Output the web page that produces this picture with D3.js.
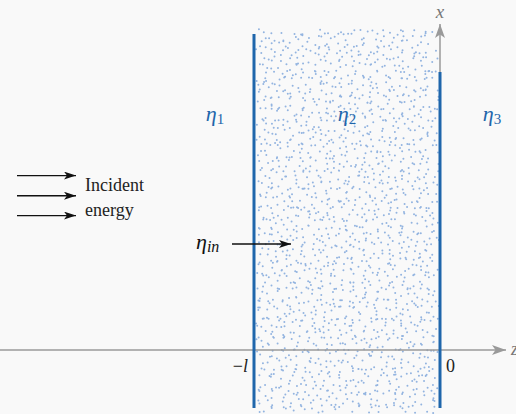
<!DOCTYPE html>
<html><head><meta charset="utf-8">
<script src="https://cdn.jsdelivr.net/npm/d3@7"></script>
</head><body style="margin:0">
<script>
// ---- data ----
const boundaryZ = [-1, 0];              // z positions of slab faces (-l, 0)
const boundaryLabels = ["\u2212l", "0"];
const mediumLabels = ["1", "2", "3"];   // subscripts of η
const mediumZ = [-1.21, -0.5, 0.28];     // z positions for η labels
const incidentArrowsY = [0.545, 0.482, 0.42];  // vertical positions (x-axis units) of incident arrows

const W = 516, H = 414;
const SERIF = "'Liberation Serif'";
const svg = d3.select("body").append("svg").attr("width", W).attr("height", H).style("display", "block");
svg.append("rect").attr("width", W).attr("height", H).attr("fill", "#f9f9f9");

// scales: z horizontal, x vertical
const zS = d3.scaleLinear().domain([-1, 0]).range([254, 440]);
const xS = d3.scaleLinear().domain([0, 1]).range([350, 30]);

const blue = "#1f66ab", gray = "#9a9a9a";
const defs = svg.append("defs");
function marker(id, color, w, h) {
  defs.append("marker").attr("id", id).attr("viewBox", `0 0 ${w} ${h}`)
    .attr("refX", w).attr("refY", h / 2).attr("markerWidth", w).attr("markerHeight", h)
    .attr("markerUnits", "userSpaceOnUse").attr("orient", "auto")
    .append("path").attr("d", `M0,0L${w},${h/2}L0,${h}L${w*0.25},${h/2}Z`).attr("fill", color);
}
marker("ah", "#111", 12, 8);
marker("gh", gray, 14, 10);

// stipple texture (deterministic seeded jitter), drawn as one path
const rng = d3.randomLcg(0.4271);
const stip = d3.path();
const step = 6.2;
for (let y = 31; y < 414; y += step) {
  for (let x = zS(-1) + 2; x < zS(0) - 1; x += step) {
    const px = x + (rng() - 0.5) * step * 1.3, py = y + (rng() - 0.5) * step * 1.3;
    if (px > zS(-1) + 2 && px < zS(0) - 1 && py > 29) {
      stip.moveTo(px + 1, py); stip.arc(px, py, 1.0, 0, 2 * Math.PI);
    }
  }
}
svg.append("path").attr("d", stip.toString()).attr("fill", "#93b4e0");

function txt(sel) { return sel.style("font-family", SERIF); }

// horizontal z axis
svg.append("line").attr("x1", 0).attr("x2", 506).attr("y1", xS(0)).attr("y2", xS(0))
  .attr("stroke", gray).attr("stroke-width", 1.5).attr("marker-end", "url(#gh)");
txt(svg.append("text")).attr("x", 511).attr("y", xS(0) + 5)
  .attr("font-style", "italic").attr("font-size", 18).attr("fill", "#777").text("z");

// vertical x axis (at z=0)
svg.append("line").attr("x1", zS(0)).attr("x2", zS(0)).attr("y1", 80).attr("y2", 24)
  .attr("stroke", gray).attr("stroke-width", 1.5).attr("marker-end", "url(#gh)");
txt(svg.append("text")).attr("x", zS(0)).attr("y", 18).attr("text-anchor", "middle")
  .attr("font-style", "italic").attr("font-size", 19).attr("fill", "#777").text("x");

// boundary lines
svg.append("g").selectAll("line").data(boundaryZ).join("line")
  .attr("x1", d => zS(d)).attr("x2", d => zS(d))
  .attr("y1", (d, i) => i === 0 ? 34 : 72).attr("y2", 408)
  .attr("stroke", blue).attr("stroke-width", 3);

// boundary labels
txt(svg.append("g").selectAll("text").data(boundaryLabels).join("text"))
  .attr("x", (d, i) => i === 0 ? zS(boundaryZ[i]) - 6 : zS(boundaryZ[i]) + 6)
  .attr("y", xS(0) + 22).attr("text-anchor", (d, i) => i === 0 ? "end" : "start")
  .attr("font-size", 18).attr("fill", "#222")
  .each(function(d, i) {
    const t = d3.select(this);
    if (i === 0) { t.append("tspan").text("\u2212"); t.append("tspan").attr("font-style", "italic").text("l"); }
    else t.text(d);
  });

// η labels
txt(svg.append("g").selectAll("text").data(mediumLabels).join("text"))
  .attr("x", (d, i) => zS(mediumZ[i])).attr("y", 121).attr("text-anchor", "middle")
  .attr("fill", blue)
  .each(function(d) {
    const t = d3.select(this);
    t.append("tspan").attr("font-style", "italic").attr("font-size", 22).text("\u03b7");
    t.append("tspan").attr("font-size", 15).attr("dy", 3).text(d);
  });

// incident arrows
svg.append("g").selectAll("line").data(incidentArrowsY).join("line")
  .attr("x1", 17).attr("x2", 76).attr("y1", d => xS(d)).attr("y2", d => xS(d))
  .attr("stroke", "#111").attr("stroke-width", 1.4).attr("marker-end", "url(#ah)");
txt(svg.append("text")).attr("x", 85).attr("y", 191).attr("font-size", 18).attr("fill", "#222").text("Incident");
txt(svg.append("text")).attr("x", 85).attr("y", 216).attr("font-size", 18).attr("fill", "#222").text("energy");

// η_in
const ein = txt(svg.append("text")).attr("x", 196).attr("y", 249)
  .attr("font-style", "italic").attr("fill", "#111");
ein.append("tspan").attr("font-size", 22).text("\u03b7");
ein.append("tspan").attr("font-size", 16).attr("dy", 3).text("in");
svg.append("line").attr("x1", 232).attr("x2", 291).attr("y1", 244).attr("y2", 244)
  .attr("stroke", "#111").attr("stroke-width", 1.4).attr("marker-end", "url(#ah)");
</script>
</body></html>
